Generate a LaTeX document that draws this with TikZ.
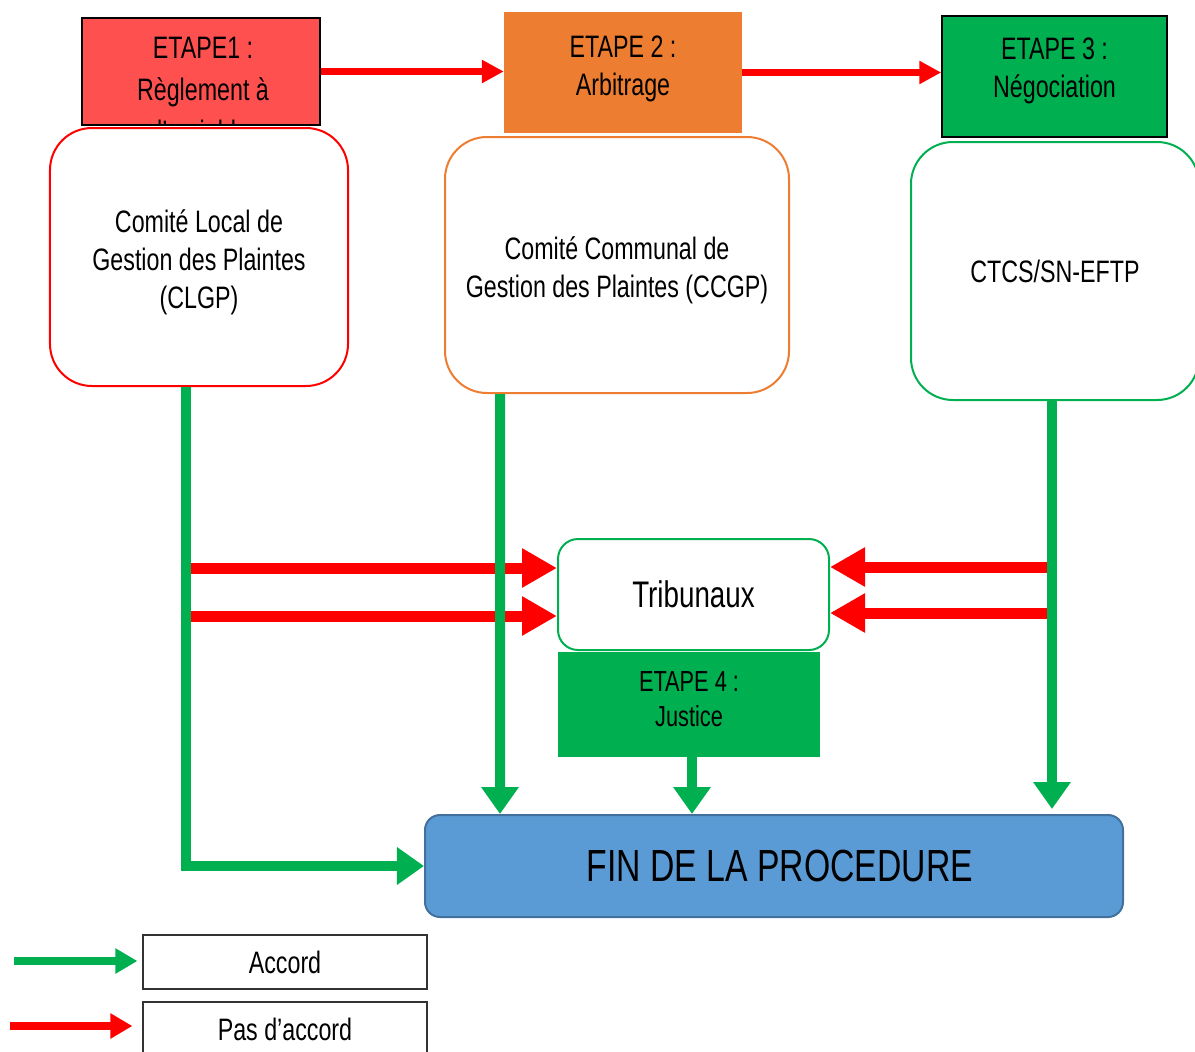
\documentclass[tikz,border=0pt]{standalone}
\usepackage{fontspec}
\setmainfont{Liberation Sans}[FakeStretch=0.75]
\usetikzlibrary{arrows.meta, positioning}

\definecolor{rouge}{HTML}{FF0000}
\definecolor{rougeclair}{HTML}{FF5050}
\definecolor{orange}{HTML}{ED7D31}
\definecolor{vert}{HTML}{00B050}
\definecolor{bleu}{HTML}{5B9BD5}
\definecolor{bleufonce}{HTML}{41719C}

% texte sur plusieurs lignes, decale verticalement
\newcommand{\bloc}[2]{\raisebox{#1}[0pt][0pt]{\begin{tabular}{@{}c@{}}#2\end{tabular}}}

\begin{document}
\begin{tikzpicture}[x=1bp, y=-1bp,
    txt/.style={font=\fontsize{31bp}{38bp}\selectfont, align=center},
    etape/.style={rectangle, txt, inner sep=0pt},
    comite/.style={rectangle, txt, rounded corners=42bp, line width=2bp, fill=white},
    flvert/.style={draw=vert, line width=10bp, -{Triangle[length=27bp, width=36bp]}},
    flrouge/.style={draw=rouge, line width=11bp, -{Triangle[length=35bp, width=37bp]}},
    flhaut/.style={draw=rouge, line width=7bp, -{Triangle[length=22bp, width=22bp]}},
    legende/.style={rectangle, draw=black!80, line width=1.2bp, minimum width=284bp, minimum height=54bp, txt}]
    \useasboundingbox (0,0) rectangle (1195,1052);

    % etapes du haut
    \node[etape, fill=rougeclair, draw=black, line width=1.5bp, minimum width=238bp, minimum height=107bp] (e1) at (201,71.5) {};
    \begin{scope}
        \clip ([shift={(1bp,1bp)}]e1.south west) rectangle ([shift={(-1bp,-1bp)}]e1.north east);
        \node[txt, anchor=north, font=\fontsize{31bp}{42bp}\selectfont] at (203,34) {ETAPE1 :\\Règlement à\\l'amiable};
    \end{scope}
    \node[etape, fill=orange, minimum width=238bp, minimum height=121bp] (e2) at (623,72.5) {\bloc{-3bp}{ETAPE 2 :\\Arbitrage}};
    \node[etape, fill=vert, draw=black, line width=1.5bp, minimum width=225bp, minimum height=121bp] (e3) at (1054.5,76.5) {\bloc{-1bp}{ETAPE 3 :\\Négociation}};

    \draw[flhaut] (e1.east) -- (e1.east -| e2.west);
    \draw[flhaut] (e2.east) -- (e2.east -| e3.west);

    % comites
    \node[comite, draw=rouge, minimum width=298bp, minimum height=258bp] (clgp) at (199,257) {\bloc{-12bp}{Comité Local de\\Gestion des Plaintes\\(CLGP)}};
    \node[comite, draw=orange, minimum width=344bp, minimum height=256bp] (ccgp) at (617,265) {\bloc{-12bp}{Comité Communal de\\Gestion des Plaintes (CCGP)}};
    \node[comite, draw=vert, minimum width=288bp, minimum height=258bp] (ctcs) at (1055,271) {CTCS/SN-EFTP};

    % justice
    \node[comite, draw=vert, rounded corners=20bp, minimum width=271bp, minimum height=111bp, font=\fontsize{37bp}{44bp}\selectfont] (trib) at (693.5,594.5) {Tribunaux};
    \node[etape, fill=vert, minimum width=262bp, minimum height=105bp, font=\fontsize{29bp}{35bp}\selectfont] (e4) at (689,704.5) {\bloc{-4bp}{ETAPE 4 :\\Justice}};

    \node[rectangle, rounded corners=15bp, fill=bleu, draw=bleufonce, line width=2bp, minimum width=698bp, minimum height=102bp, font=\fontsize{45bp}{50bp}\selectfont] (fin) at (774,866) {\hspace{12bp}FIN DE LA PROCEDURE};

    % pas d'accord
    \coordinate (g1) at (190,568);
    \coordinate (g2) at (190,616);
    \coordinate (d1) at (1053,567);
    \coordinate (d2) at (1053,613);
    \draw[flrouge] (g1) -- (g1 -| trib.west);
    \draw[flrouge] (g2) -- (g2 -| trib.west);
    \draw[flrouge] (d1) -- (d1 -| trib.east);
    \draw[flrouge] (d2) -- (d2 -| trib.east);

    % accord
    \draw[flvert] ([xshift=-13bp]clgp.south) |- (fin.west);
    \draw[flvert] ([xshift=-117bp]ccgp.south) -- ([xshift=-274bp]fin.north);
    \draw[flvert] ([xshift=3bp]e4.south) -- ([xshift=3bp]e4.south |- fin.north);
    \draw[flvert] ([xshift=-3bp]ctcs.south) -- ([xshift=-3bp, yshift=5bp]ctcs.south |- fin.north);

    % legende
    \node[legende] (acc) at (285,962) {Accord};
    \node[legende] (pas) at (285,1029) {Pas d'accord};
    \coordinate (la) at (14,961);
    \coordinate (lb) at (10,1026);
    \draw[draw=vert, line width=8bp, -{Triangle[length=22bp, width=24bp]}, shorten >=5bp] (la) -- (la -| acc.west);
    \draw[draw=rouge, line width=8bp, -{Triangle[length=22bp, width=24bp]}, shorten >=10bp] (lb) -- (lb -| pas.west);
\end{tikzpicture}
\end{document}
